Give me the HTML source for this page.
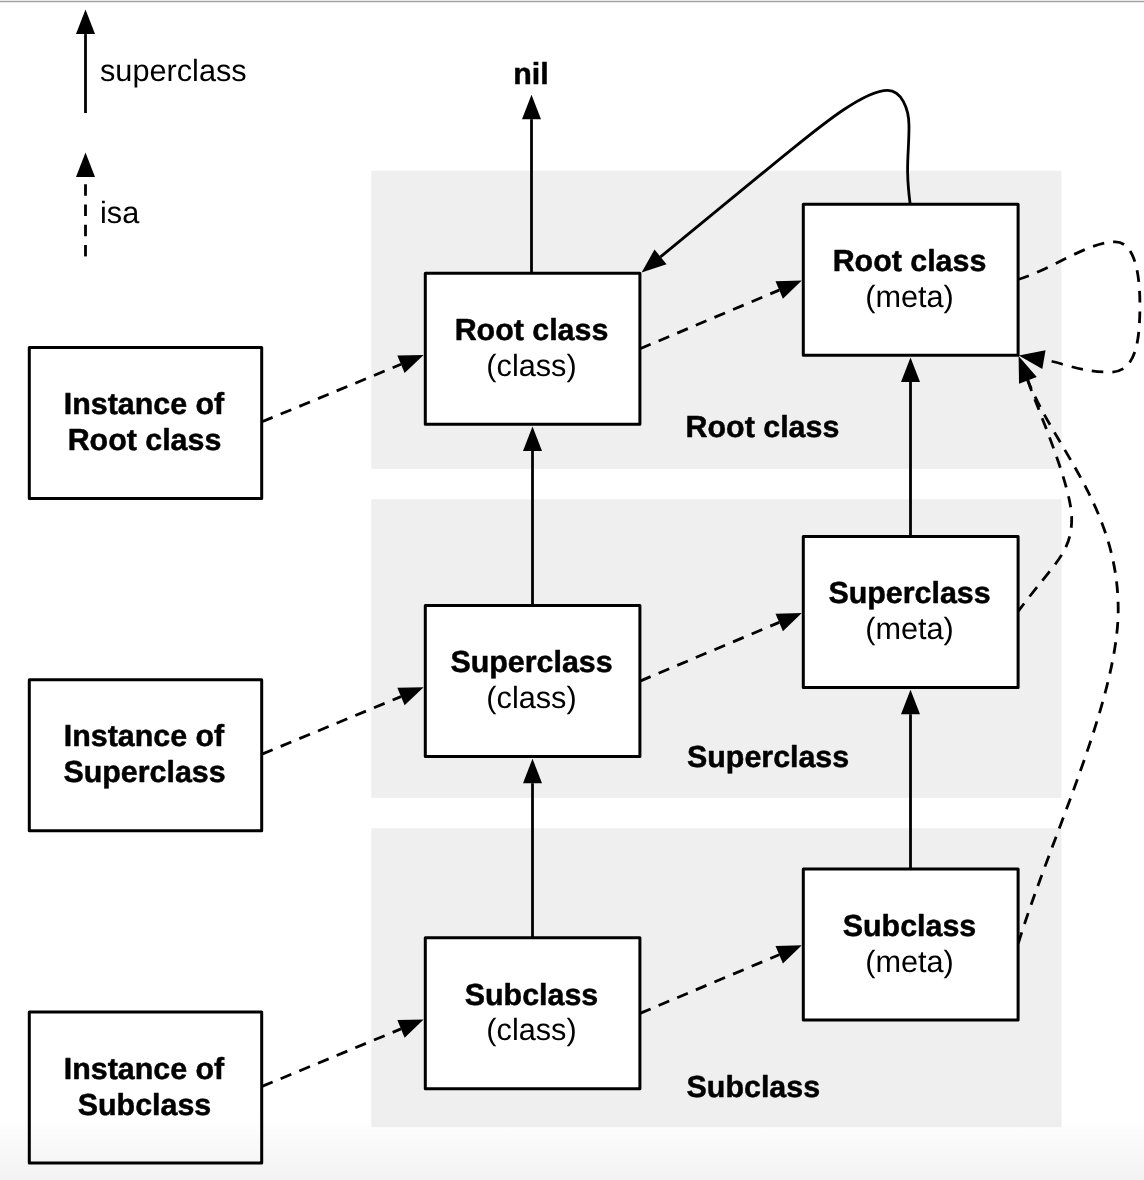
<!DOCTYPE html>
<html><head><meta charset="utf-8"><title>Class diagram</title>
<style>
html,body{margin:0;padding:0;background:#fff;}
body{width:1144px;height:1180px;overflow:hidden;position:relative;font-family:"Liberation Sans",sans-serif;}
svg{position:absolute;left:0;top:0;display:block;will-change:transform;text-rendering:geometricPrecision;}
text{font-family:"Liberation Sans",sans-serif;font-size:30.7px;fill:#000;}
.b{font-weight:bold;font-size:30.4px;stroke:#000;stroke-width:0.5px;stroke-linejoin:round;}
.m{text-anchor:middle;}
</style></head><body>
<svg width="1144" height="1180" viewBox="0 0 1144 1180">
<defs><linearGradient id="bg" x1="0" y1="0" x2="0" y2="1"><stop offset="0" stop-color="#000" stop-opacity="0"/><stop offset="1" stop-color="#000" stop-opacity="0.05"/></linearGradient></defs>
<rect x="0" y="0" width="1144" height="1180" fill="#fff"/>
<rect x="0" y="0.75" width="1144" height="1.5" fill="#a4a4a4"/>

<rect x="371.3" y="170.7" width="690.2" height="298.3" fill="#efefef"/>
<rect x="371.3" y="499.2" width="690.2" height="298.7" fill="#efefef"/>
<rect x="371.3" y="828.2" width="690.2" height="299.0" fill="#efefef"/>
<g fill="#fff" stroke="#000" stroke-width="3" stroke-linejoin="round"><rect x="29.30" y="347.50" width="232.40" height="151.00"/>
<rect x="29.30" y="679.70" width="232.40" height="151.00"/>
<rect x="29.30" y="1012.00" width="232.40" height="151.00"/>
<rect x="425.30" y="273.30" width="214.60" height="151.00"/>
<rect x="425.30" y="605.60" width="214.60" height="151.00"/>
<rect x="425.30" y="937.80" width="214.60" height="151.00"/>
<rect x="803.30" y="204.30" width="214.80" height="151.00"/>
<rect x="803.30" y="536.60" width="214.80" height="151.00"/>
<rect x="803.30" y="868.90" width="214.80" height="151.00"/></g>
<g fill="none" stroke="#000" stroke-width="2.8"><path d="M85.5 34.1 V113"/>
<path d="M531.5 119.2 V273"/>
<path d="M532.5 450.9 V605.6"/>
<path d="M910.5 381.9 V536.6"/>
<path d="M532.5 783.2 V937.8"/>
<path d="M910.5 714.2 V868.9"/>
<path d="M910.1 203.6 C905.2 166 909 154.8 909 125.9 C909 108.5 901.2 90.3 887.7 90.3 C860.5 90.3 808 136.8 780 158.8 L660.5 256.9"/></g>
<g fill="none" stroke="#000" stroke-width="2.8" stroke-dasharray="11.5 8.7"><path d="M85.5 256.4 V183.0"/>
<path d="M262.0 421.8 L401.0 364.3"/>
<path d="M640.0 348.8 L779.2 290.1"/>
<path d="M262.0 754.1 L401.0 696.6"/>
<path d="M640.0 681.1 L779.2 622.4"/>
<path d="M262.0 1086.4 L401.0 1028.9"/>
<path d="M640.0 1013.4 L779.2 954.7"/>
<path d="M1017.9 279.5 C1051.8 269.5 1087.9 241.8 1115.2 241.8 C1136.4 241.8 1139.9 279.8 1139.9 303.9 C1139.9 338.6 1136.9 372.1 1110.6 372.1 C1079.9 372.1 1060 362 1043.9 359.7" stroke-dasharray="11.6 8.95"/>
<path d="M1018.3 611.2 C1054.8 562.4 1071.7 552.8 1071.7 518.5 C1071.7 484.3 1033.6 399.6 1027.5 379.4" stroke-dashoffset="2" stroke-dasharray="11.6 8.85"/>
<path d="M1018.3 943.4 C1049.4 841.4 1118.2 700.3 1118.2 609.7 C1118.2 506.9 1053.3 446.3 1027.5 379.4" stroke-dasharray="11.6 8.75"/></g>
<g fill="#000" stroke="none"><polygon points="85.50,9.60 95.00,34.10 76.00,34.10"/>
<polygon points="85.50,152.50 95.00,177.00 76.00,177.00"/>
<polygon points="531.50,94.70 541.00,119.20 522.00,119.20"/>
<polygon points="532.50,426.40 542.00,450.90 523.00,450.90"/>
<polygon points="910.50,357.40 920.00,381.90 901.00,381.90"/>
<polygon points="532.50,758.70 542.00,783.20 523.00,783.20"/>
<polygon points="910.50,689.70 920.00,714.20 901.00,714.20"/>
<polygon points="423.60,354.90 404.60,373.05 397.33,355.49"/>
<polygon points="801.80,280.60 782.91,298.87 775.53,281.36"/>
<polygon points="423.60,687.20 404.60,705.35 397.33,687.79"/>
<polygon points="801.80,612.90 782.91,631.17 775.53,613.66"/>
<polygon points="423.60,1019.50 404.60,1037.65 397.33,1020.09"/>
<polygon points="801.80,945.20 782.91,963.47 775.53,945.96"/>
<polygon points="641.60,272.40 654.51,249.51 666.56,264.20"/>
<polygon points="1018.80,355.40 1045.54,350.34 1042.33,369.07"/>
<polygon points="1018.60,356.00 1036.78,376.88 1019.04,383.68"/></g>
<text x="100" y="80.9">superclass</text>
<text x="100" y="222.5">isa</text>
<text class="b m" x="531" y="83.9">nil</text>
<text class="b m" x="144" y="414.0">Instance of</text>
<text class="b m" x="144.5" y="450.0">Root class</text>
<text class="b m" x="531.5" y="340.0">Root class</text>
<text class="m" x="531.5" y="375.8">(class)</text>
<text class="b m" x="909.5" y="271.0">Root class</text>
<text class="m" x="909.5" y="307.0">(meta)</text>
<text class="b" x="685.6" y="436.6">Root class</text>
<text class="b m" x="144" y="746.3">Instance of</text>
<text class="b m" x="144.5" y="782.3">Superclass</text>
<text class="b m" x="531.5" y="672.3">Superclass</text>
<text class="m" x="531.5" y="708.1">(class)</text>
<text class="b m" x="909.5" y="603.3">Superclass</text>
<text class="m" x="909.5" y="639.3">(meta)</text>
<text class="b" x="687.0" y="767.3">Superclass</text>
<text class="b m" x="144" y="1078.6">Instance of</text>
<text class="b m" x="144.5" y="1114.6">Subclass</text>
<text class="b m" x="531.5" y="1004.6">Subclass</text>
<text class="m" x="531.5" y="1040.4">(class)</text>
<text class="b m" x="909.5" y="935.6">Subclass</text>
<text class="m" x="909.5" y="971.6">(meta)</text>
<text class="b" x="686.6" y="1097.0">Subclass</text>
<rect x="0" y="1116" width="1144" height="64" fill="url(#bg)"/>
</svg></body></html>
